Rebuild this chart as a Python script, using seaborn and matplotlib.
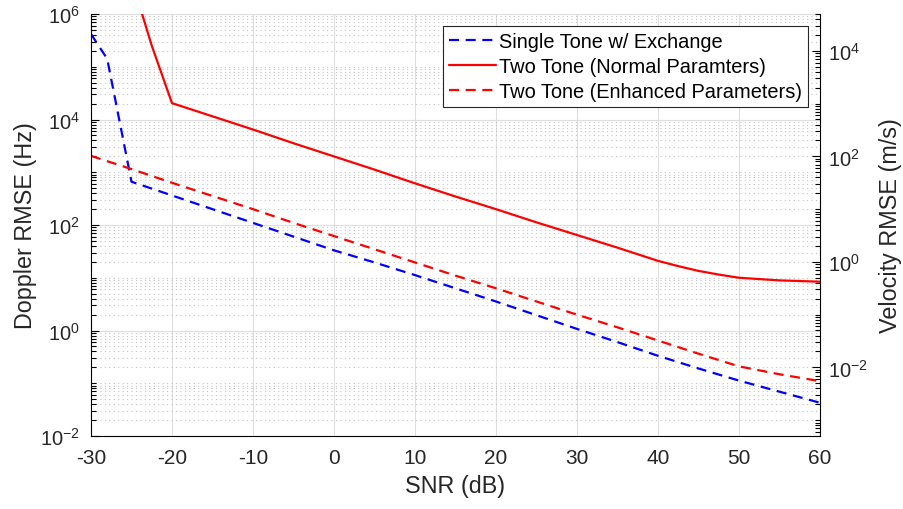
import numpy as np
import pandas as pd
import matplotlib
matplotlib.use("Agg")
import matplotlib.pyplot as plt
import matplotlib.ticker as mticker
import seaborn as sns

# ---- data ----
snr_single = [-30, -28, -25, -20, -15, -10, -5, 0, 5, 10, 15, 20, 25, 30, 35, 40, 45, 50, 55, 60]
rmse_single_log = [5.62, 5.15, 2.82, 2.56, 2.30, 2.04, 1.78, 1.52, 1.29, 1.05, 0.80, 0.55, 0.29, 0.03,
                   -0.22, -0.48, -0.72, -0.95, -1.16, -1.37]

snr_two = [-25, -22.5, -20, -15, -10, -5, 0, 5, 10, 15, 20, 25, 30, 35, 40, 42.5, 45, 47.5, 50, 55, 60]
rmse_two_log = [6.66, 5.40, 4.31, 4.06, 3.81, 3.55, 3.30, 3.05, 2.79, 2.54, 2.30, 2.05, 1.81, 1.57,
                1.32, 1.22, 1.13, 1.06, 1.00, 0.95, 0.925]

snr_enh = [-30, -25, -20, -15, -10, -5, 0, 5, 10, 15, 20, 25, 30, 35, 40, 45, 50, 55, 60]
rmse_enh_log = [3.31, 3.06, 2.80, 2.55, 2.30, 2.04, 1.79, 1.54, 1.29, 1.04, 0.80, 0.55, 0.30, 0.06,
                -0.19, -0.44, -0.68, -0.83, -0.96]

labels = ["Single Tone w/ Exchange", "Two Tone (Normal Paramters)", "Two Tone (Enhanced Parameters)"]
x_ticks = [-30, -20, -10, 0, 10, 20, 30, 40, 50, 60]
left_exponents = [-2, 0, 2, 4, 6]
right_exponents = [-2, 0, 2, 4]
doppler_to_velocity = 1 / 20.0  # right axis scale factor

# ---- style ----
sns.set_style("white")
plt.rcParams["font.family"] = ["Liberation Sans", "DejaVu Sans"]
plt.rcParams["mathtext.fontset"] = "custom"
plt.rcParams["mathtext.rm"] = "Liberation Sans"
plt.rcParams["mathtext.it"] = "Liberation Sans:italic"
plt.rcParams["mathtext.default"] = "regular"
plt.rcParams["axes.unicode_minus"] = False

FS_X = 15
FS_Y = 14.5
FS_LAB = 16.8
FS_LEG = 14.4
TXT = "#262626"


def minor_ticks(lo, hi):
    out = []
    for d in range(int(np.floor(np.log10(lo))) - 1, int(np.ceil(np.log10(hi))) + 1):
        for s in range(1, 10):
            v = s * 10.0 ** d
            if lo * 0.999 <= v <= hi * 1.001:
                out.append(v)
    return out


fig = plt.figure(figsize=(9.04, 5.10), dpi=100)
ax = fig.add_axes([91 / 904, 1 - 437 / 510, (820 - 91) / 904, (437 - 15) / 510])

df1 = pd.DataFrame({"snr": snr_single, "rmse": 10 ** np.array(rmse_single_log)})
df2 = pd.DataFrame({"snr": snr_two, "rmse": 10 ** np.array(rmse_two_log)})
df3 = pd.DataFrame({"snr": snr_enh, "rmse": 10 ** np.array(rmse_enh_log)})

lw = 1.6
sns.lineplot(data=df1, x="snr", y="rmse", ax=ax, color="#0000ff", lw=lw, label=labels[0])
sns.lineplot(data=df2, x="snr", y="rmse", ax=ax, color="#ff0000", lw=lw, label=labels[1])
sns.lineplot(data=df3, x="snr", y="rmse", ax=ax, color="#ff0000", lw=lw, label=labels[2])
lines = ax.get_lines()
lines[0].set_dashes((4.5, 3))
lines[2].set_dashes((4.5, 3))

ylo, yhi = 1e-2, 1e6
ax.set_yscale("log")
ax.set_xlim(-30, 60)
ax.set_ylim(ylo, yhi)
ax.set_xticks(x_ticks)
ax.set_xticklabels([str(t) for t in x_ticks])

ax.yaxis.set_major_locator(mticker.FixedLocator([10.0 ** e for e in left_exponents]))
ax.yaxis.set_minor_locator(mticker.FixedLocator(minor_ticks(ylo, yhi)))
fmt = mticker.FuncFormatter(lambda v, p: r"$10^{%d}$" % int(round(np.log10(v))))
ax.yaxis.set_major_formatter(fmt)
ax.yaxis.set_minor_formatter(mticker.NullFormatter())

ax.set_axisbelow(True)
ax.xaxis.grid(True, which="major", color="#dedede", lw=0.8, ls="-")
ax.yaxis.grid(True, which="major", color="#dedede", lw=0.8, ls="-")
ax.yaxis.grid(True, which="minor", color="#c4c4c4", lw=0.8, ls=(0, (1, 3)))

for s in ["top", "right"]:
    ax.spines[s].set_visible(False)
for s in ["left", "bottom"]:
    ax.spines[s].set_color("black")
    ax.spines[s].set_linewidth(0.8)

ax.tick_params(axis="both", which="both", direction="in", colors="black", labelcolor=TXT,
               top=False, right=False)
ax.tick_params(axis="x", which="major", length=6, width=0.8, pad=9, labelsize=FS_X)
ax.tick_params(axis="y", which="major", length=6, width=0.8, pad=8, labelsize=FS_Y)
ax.tick_params(axis="y", which="minor", length=3.5, width=0.8)

ax.set_xlabel("SNR (dB)", fontsize=FS_LAB, color=TXT, labelpad=5)
ax.set_ylabel("Doppler RMSE (Hz)", fontsize=FS_LAB, color=TXT, labelpad=2)

# right axis
ax2 = ax.twinx()
rlo, rhi = ylo * doppler_to_velocity, yhi * doppler_to_velocity
ax2.set_yscale("log")
ax2.set_ylim(rlo, rhi)
ax2.yaxis.set_major_locator(mticker.FixedLocator([10.0 ** e for e in right_exponents]))
ax2.yaxis.set_minor_locator(mticker.FixedLocator(minor_ticks(rlo, rhi)))
ax2.yaxis.set_major_formatter(fmt)
ax2.yaxis.set_minor_formatter(mticker.NullFormatter())
for s in ["top", "left", "bottom"]:
    ax2.spines[s].set_visible(False)
ax2.spines["right"].set_color("black")
ax2.spines["right"].set_linewidth(0.8)
ax2.xaxis.set_visible(False)
ax2.tick_params(axis="y", which="both", direction="in", colors="black", labelcolor=TXT)
ax2.tick_params(axis="y", which="major", length=6, width=0.8, pad=6, labelsize=FS_Y)
ax2.tick_params(axis="y", which="minor", length=3.5, width=0.8)
ax2.set_ylabel("Velocity RMSE (m/s)", fontsize=FS_LAB, color=TXT, labelpad=8)
ax2.grid(False)

leg = ax.legend(loc="upper right", bbox_to_anchor=(1.0, 1.0), borderaxespad=0.6,
                fontsize=FS_LEG, frameon=True, fancybox=False, framealpha=1,
                edgecolor="#262626", handlelength=2.35, handletextpad=0.15,
                labelspacing=0.3, borderpad=0.3)
leg.get_frame().set_linewidth(0.8)
for t in leg.get_texts():
    t.set_color("black")
leg_lines = leg.get_lines()
leg_lines[0].set_dashes((4.5, 3))
leg_lines[2].set_dashes((4.5, 3))

fig.savefig("out.png", dpi=100)
